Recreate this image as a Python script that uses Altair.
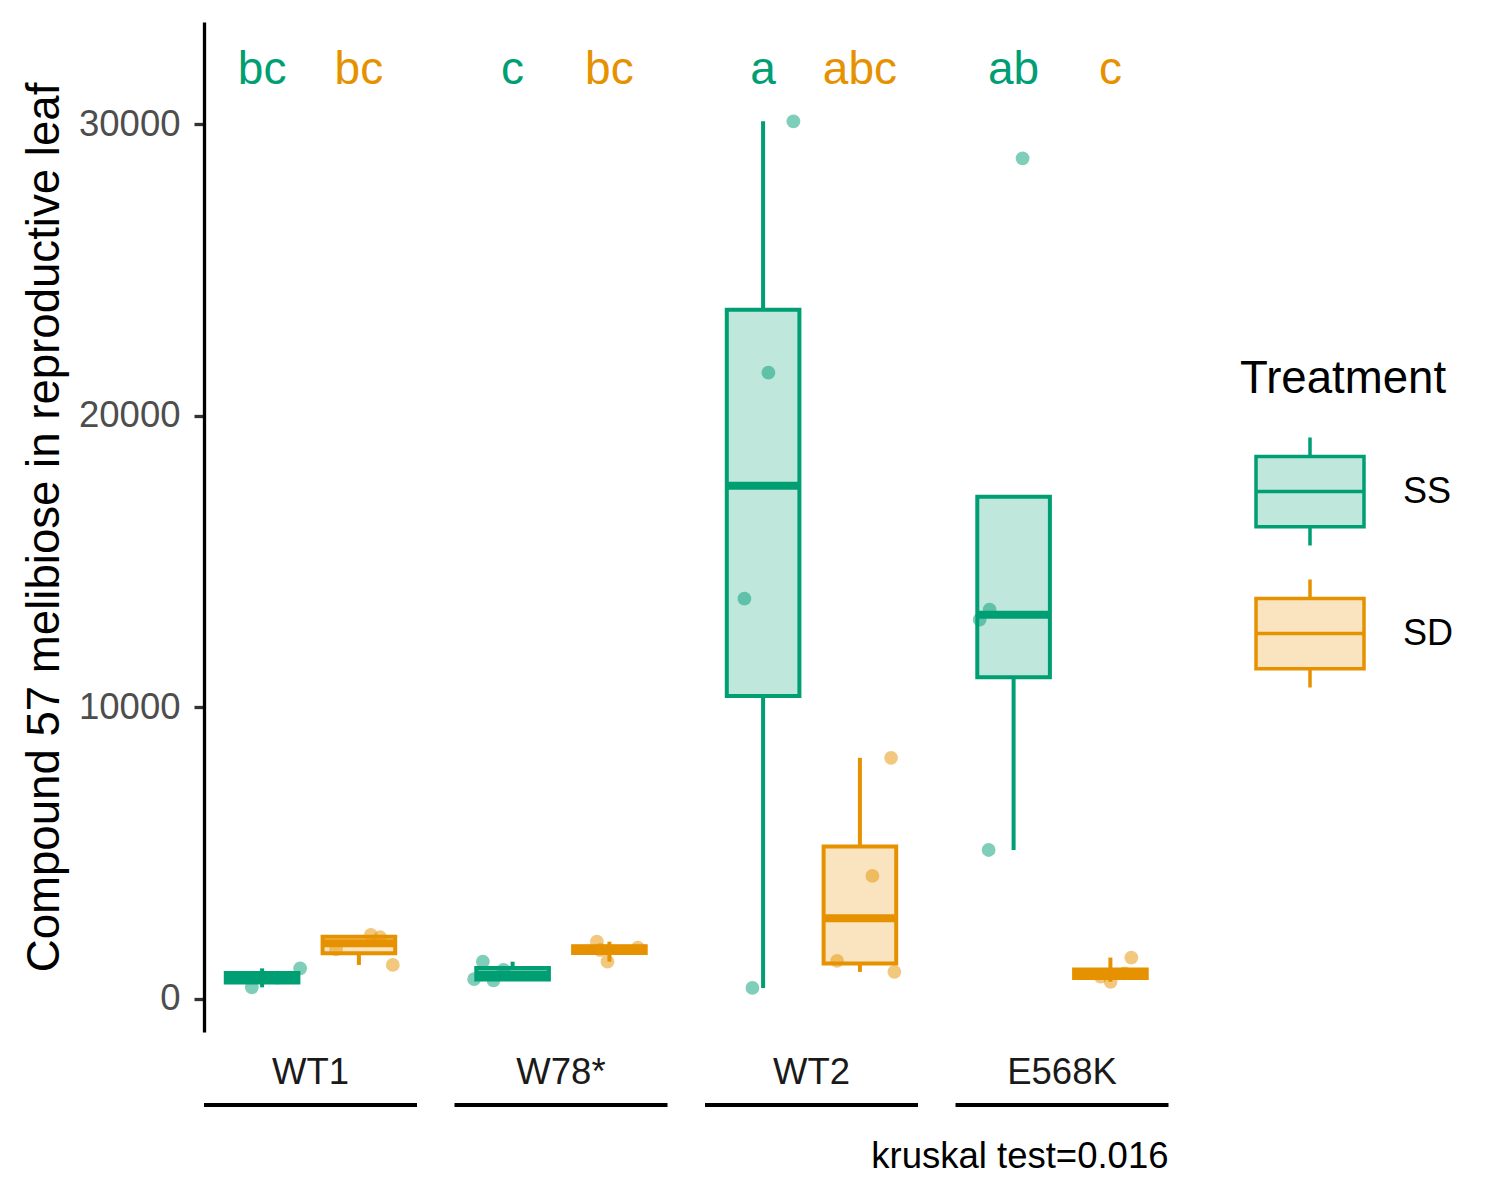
import altair as alt
import numpy as np
import pandas as pd

# ---------------- data ----------------
genotypes = ["WT1", "W78*", "WT2", "E568K"]
treatments = ["SS", "SD"]
dark_colors = ["#009E73", "#E69100"]

# values per genotype (SS / SD) and horizontal jitter offsets (category units)
wt1_ss = [400, 730, 1050]
wt1_ss_jit = [-0.106, 0.158, 0.393]
wt1_sd = [2196, 2117, 1167, 1700]
wt1_sd_jit = [0.123, 0.219, 0.350, -0.236]

w78_ss = [1280, 680, 640, 995]
w78_ss_jit = [-0.307, -0.397, -0.197, -0.094]
w78_sd = [1965, 1280, 1760, 1680]
w78_sd_jit = [-0.129, -0.020, 0.294, -0.095]

wt2_ss = [30100, 21480, 13730, 380]
wt2_ss_jit = [0.313, 0.055, -0.193, -0.110]
wt2_sd = [8270, 4220, 1310, 930]
wt2_sd_jit = [0.322, 0.129, -0.236, 0.356]

e568k_ss = [28830, 13010, 13350, 5110]
e568k_ss_jit = [0.093, -0.351, -0.248, -0.258]
e568k_sd = [1420, 880, 590, 765]
e568k_sd_jit = [0.216, 0.147, 0.002, -0.101]

letters_ss = ["bc", "c", "a", "ab"]
letters_sd = ["bc", "bc", "abc", "c"]

caption = "kruskal test=0.016"
y_title = "Compound 57 melibiose in reproductive leaf"
y_ticks = [0, 10000, 20000, 30000]

groups = {
    ("WT1", "SS"): (wt1_ss, wt1_ss_jit), ("WT1", "SD"): (wt1_sd, wt1_sd_jit),
    ("W78*", "SS"): (w78_ss, w78_ss_jit), ("W78*", "SD"): (w78_sd, w78_sd_jit),
    ("WT2", "SS"): (wt2_ss, wt2_ss_jit), ("WT2", "SD"): (wt2_sd, wt2_sd_jit),
    ("E568K", "SS"): (e568k_ss, e568k_ss_jit), ("E568K", "SD"): (e568k_sd, e568k_sd_jit),
}


def blend(hex_color, alpha):
    h = hex_color.lstrip("#")
    rgb = [int(h[i:i + 2], 16) for i in (0, 2, 4)]
    out = [round(alpha * c + (1 - alpha) * 255) for c in rgb]
    return "#" + "".join(f"{c:02X}" for c in out)


light_colors = [blend(c, 0.25) for c in dark_colors]

# layout of the "panels" in x units (one unit = distance between SS and SD)
PANEL = 2.2          # width of one genotype panel (0.6 + 1 + 0.6)
GAP = 0.3874         # gap between panels
STEP = PANEL + GAP
HALF = 0.375         # half box width
X_MAX = 4 * PANEL + 3 * GAP
W, H = 964.5, 1010

# ---------------- tables ----------------
pt_rows, st_rows, lab_rows, gen_rows = [], [], [], []
for (g, t), (vals, jit) in groups.items():
    left = genotypes.index(g) * STEP
    pos = left + 0.6 + treatments.index(t)
    for v, j in zip(vals, jit):
        pt_rows.append({"Genotype": g, "Treatment": t, "value": v, "xj": pos + j})
    a = np.array(vals, dtype=float)
    q1, med, q3 = np.percentile(a, [25, 50, 75])
    iqr = q3 - q1
    inside = a[(a >= q1 - 1.5 * iqr) & (a <= q3 + 1.5 * iqr)]
    lo = min(q1, inside.min())
    hi = max(q3, inside.max())
    st_rows.append({"Genotype": g, "Treatment": t, "pos": pos,
                    "x1": pos - HALF, "x2": pos + HALF,
                    "q1": q1, "med": med, "q3": q3, "lo": lo, "hi": hi})
for i, g in enumerate(genotypes):
    left = i * STEP
    lab_rows.append({"Genotype": g, "Treatment": "SS", "pos": left + 0.6, "label": letters_ss[i]})
    lab_rows.append({"Genotype": g, "Treatment": "SD", "pos": left + 1.6, "label": letters_sd[i]})
    gen_rows.append({"Genotype": g, "l": left, "c": left + PANEL / 2, "r": left + PANEL})

points = pd.DataFrame(pt_rows)
stats = pd.DataFrame(st_rows)
letters = pd.DataFrame(lab_rows)
gens = pd.DataFrame(gen_rows)

# ---------------- chart ----------------
FONT = "Liberation Sans"
y_scale = alt.Scale(domain=[-1132, 33505], nice=False, zero=False)
x_scale = alt.Scale(domain=[0, X_MAX], nice=False, zero=False)
dark_scale = alt.Scale(domain=treatments, range=dark_colors)
light_scale = alt.Scale(domain=treatments, range=light_colors)
LETTER_Y = 31370

legend = alt.Legend(title="Treatment", orient="none", legendX=1036, legendY=335)

yaxis = alt.Axis(values=y_ticks, format="d", grid=False, title=y_title,
                 labelFontSize=36.5, labelColor="#4D4D4D", labelPadding=14,
                 tickSize=10, tickWidth=3.3, tickColor="#333333",
                 domainColor="black", domainWidth=3.3,
                 titleFontSize=45.6, titleFontWeight="normal", titleColor="black",
                 titlePadding=10)

st = alt.Chart(stats)
xpos = alt.X("pos:Q", scale=x_scale, axis=None)
x1 = alt.X("x1:Q", scale=x_scale, axis=None)
stroke_enc = alt.Stroke("Treatment:N", scale=dark_scale, legend=legend)

lower = st.mark_rule(strokeWidth=4).encode(
    x=xpos, y=alt.Y("q1:Q", scale=y_scale, axis=yaxis), y2="lo:Q", stroke=stroke_enc)
upper = st.mark_rule(strokeWidth=4).encode(
    x=xpos, y=alt.Y("q3:Q", scale=y_scale, axis=yaxis), y2="hi:Q", stroke=stroke_enc)
box = st.mark_rect(strokeWidth=4).encode(
    x=x1, x2="x2:Q", y=alt.Y("q1:Q", scale=y_scale, axis=yaxis), y2="q3:Q",
    fill=alt.Fill("Treatment:N", scale=light_scale, legend=legend),
    stroke=stroke_enc)
median = st.mark_rule(strokeWidth=8).encode(
    x=x1, x2="x2:Q", y=alt.Y("med:Q", scale=y_scale, axis=yaxis), stroke=stroke_enc)
dots = alt.Chart(points).mark_circle(size=190, opacity=0.5).encode(
    x=alt.X("xj:Q", scale=x_scale, axis=None),
    y=alt.Y("value:Q", scale=y_scale, axis=yaxis),
    color=alt.Color("Treatment:N", scale=dark_scale, legend=None))
lets = alt.Chart(letters).mark_text(fontSize=46, font=FONT, baseline="alphabetic", align="center").transform_calculate(
    yy=str(LETTER_Y)).encode(
    x=xpos,
    y=alt.Y("yy:Q", scale=y_scale, axis=yaxis),
    text="label:N",
    color=alt.Color("Treatment:N", scale=dark_scale, legend=None))
gname = alt.Chart(gens).mark_text(fontSize=36.5, font=FONT, color="#1A1A1A", baseline="middle", align="center").encode(
    x=alt.X("c:Q", scale=x_scale, axis=None), y=alt.value(1051), text="Genotype:N")
uline = alt.Chart(gens).mark_rule(strokeWidth=4, color="black").encode(
    x=alt.X("l:Q", scale=x_scale, axis=None), x2="r:Q", y=alt.value(1083))
cap = alt.Chart(pd.DataFrame({"t": [caption]})).mark_text(
    fontSize=36.5, font=FONT, color="black", baseline="alphabetic", align="right").encode(
    x=alt.value(W), y=alt.value(1146), text="t:N")

chart = alt.layer(lower, upper, box, median, dots, lets, gname, uline, cap).properties(
    width=W, height=H,
    padding={"left": 14, "top": 14, "right": 10, "bottom": 10}
).configure(font=FONT).configure_view(strokeWidth=0, stroke="transparent").configure_legend(
    symbolType="M-1,-0.65H1V0.65H-1Z M-1,0H1 M0,-0.65V-1 M0,0.65V1",
    symbolSize=11664, symbolStrokeWidth=3.5, symbolOffset=14,
    titleFontSize=45.6, titleFontWeight="normal", titleColor="black", titlePadding=33,
    titleLimit=500, labelLimit=300,
    labelFontSize=36, labelColor="black", labelOffset=37, rowPadding=20, padding=0,
    titleFont=FONT, labelFont=FONT
)

chart.save("out.html", embed_options={"renderer": "svg", "actions": False})
